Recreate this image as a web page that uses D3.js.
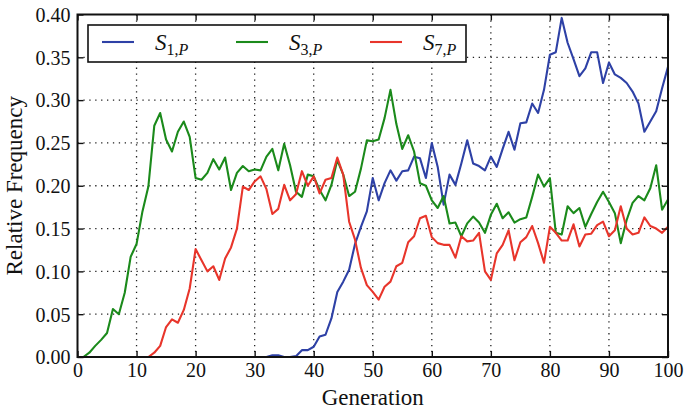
<!DOCTYPE html>
<html>
<head>
<meta charset="utf-8">
<script src="https://cdn.jsdelivr.net/npm/d3@7"></script>
<style>
  html, body { margin: 0; padding: 0; background: #fff; }
  svg text { font-family: "Liberation Serif", "Times New Roman", serif; fill: #111; }
</style>
</head>
<body>
<svg id="chart" width="685" height="412"></svg>
<script>
// ---- data ----
const xTicks = [0, 10, 20, 30, 40, 50, 60, 70, 80, 90, 100];
const yTicks = [0.00, 0.05, 0.10, 0.15, 0.20, 0.25, 0.30, 0.35, 0.40];
const seriesNames = ["1", "3", "7"];

const s3Start = 0;
const s3Values = [0, 0, 0.005, 0.013, 0.020, 0.028, 0.056, 0.050, 0.075, 0.117,
  0.132, 0.170, 0.199, 0.270, 0.285, 0.254, 0.240, 0.263, 0.275, 0.257,
  0.209, 0.207, 0.215, 0.231, 0.219, 0.233, 0.195, 0.215, 0.223, 0.217,
  0.219, 0.218, 0.234, 0.243, 0.218, 0.249, 0.224, 0.193, 0.187, 0.213,
  0.211, 0.195, 0.183, 0.201, 0.230, 0.213, 0.188, 0.193, 0.220, 0.253,
  0.252, 0.254, 0.279, 0.312, 0.272, 0.243, 0.259, 0.240, 0.203, 0.200,
  0.183, 0.174, 0.188, 0.156, 0.157, 0.141, 0.156, 0.164, 0.157, 0.145,
  0.166, 0.179, 0.162, 0.169, 0.157, 0.161, 0.163, 0.187, 0.213, 0.199,
  0.209, 0.145, 0.143, 0.176, 0.168, 0.174, 0.152, 0.167, 0.181, 0.193,
  0.181, 0.168, 0.133, 0.160, 0.180, 0.188, 0.183, 0.197, 0.224, 0.172,
  0.184];

const s7Start = 12;
const s7Values = [0, 0.005, 0.013, 0.035, 0.044, 0.040, 0.055, 0.080,
  0.126, 0.113, 0.100, 0.106, 0.090, 0.115, 0.128, 0.150, 0.199, 0.195,
  0.205, 0.211, 0.196, 0.167, 0.173, 0.201, 0.183, 0.190, 0.217, 0.200,
  0.211, 0.191, 0.207, 0.209, 0.233, 0.213, 0.158, 0.137, 0.104, 0.084,
  0.076, 0.067, 0.082, 0.088, 0.106, 0.110, 0.134, 0.141, 0.162, 0.165,
  0.140, 0.133, 0.131, 0.131, 0.116, 0.141, 0.135, 0.136, 0.145, 0.100,
  0.090, 0.121, 0.131, 0.148, 0.113, 0.134, 0.140, 0.153, 0.133, 0.110,
  0.152, 0.145, 0.136, 0.136, 0.155, 0.129, 0.143, 0.144, 0.154, 0.158,
  0.141, 0.148, 0.176, 0.150, 0.143, 0.145, 0.163, 0.153, 0.150, 0.145,
  0.152];

const s1Start = 32;
const s1Values = [0, 0.002, 0.002, 0, 0, 0.001, 0.008, 0.008,
  0.012, 0.024, 0.026, 0.045, 0.076, 0.088, 0.102, 0.132, 0.152, 0.170,
  0.209, 0.183, 0.203, 0.218, 0.206, 0.217, 0.218, 0.234, 0.232, 0.209,
  0.250, 0.222, 0.178, 0.213, 0.201, 0.226, 0.253, 0.226, 0.223, 0.218,
  0.234, 0.222, 0.243, 0.263, 0.242, 0.273, 0.274, 0.296, 0.285, 0.312,
  0.353, 0.356, 0.396, 0.367, 0.348, 0.328, 0.337, 0.356, 0.356, 0.320,
  0.344, 0.330, 0.326, 0.320, 0.310, 0.296, 0.263, 0.275, 0.287, 0.314,
  0.339];

// ---- layout ----
const svg = d3.select("#chart");
const pL = 77.5, pR = 668, pT = 14.5, pB = 357;
const x = d3.scaleLinear().domain([0, 100]).range([pL, pR]);
const y = d3.scaleLinear().domain([0, 0.40]).range([pB, pT]);

const toPts = (start, vals) => vals.map((v, i) => ({ g: start + i, v }));
const series = [
  { name: seriesNames[0], color: "#2e41a6", pts: toPts(s1Start, s1Values) },
  { name: seriesNames[1], color: "#1b8a1b", pts: toPts(s3Start, s3Values) },
  { name: seriesNames[2], color: "#e8352b", pts: toPts(s7Start, s7Values) }
];

// grid
const grid = svg.append("g").attr("stroke", "#222").attr("stroke-width", 1.3)
  .attr("stroke-dasharray", "1.3,4.6");
xTicks.filter(t => t > 0 && t < 100).forEach(t => {
  grid.append("line").attr("x1", x(t)).attr("x2", x(t)).attr("y1", pT).attr("y2", pB);
});
yTicks.filter(t => t > 0 && t < 0.4).forEach(t => {
  grid.append("line").attr("x1", pL).attr("x2", pR).attr("y1", y(t)).attr("y2", y(t));
});

// lines
const line = d3.line().x(d => x(d.g)).y(d => y(d.v));
svg.append("clipPath").attr("id", "clip").append("rect")
  .attr("x", pL).attr("y", pT - 2).attr("width", pR - pL).attr("height", pB - pT + 2);
series.forEach(s => {
  svg.append("path").datum(s.pts).attr("d", line)
    .attr("fill", "none").attr("stroke", s.color).attr("stroke-width", 2.1)
    .attr("stroke-linejoin", "round").attr("clip-path", "url(#clip)");
});

// axes (ticks pointing inward)
const fmtY = d3.format(".2f");
const axB = svg.append("g").attr("transform", `translate(0,${pB})`)
  .call(d3.axisBottom(x).tickValues(xTicks).tickSizeInner(-6).tickSizeOuter(0).tickPadding(5).tickFormat(d3.format("d")));
const axT = svg.append("g").attr("transform", `translate(0,${pT})`)
  .call(d3.axisTop(x).tickValues(xTicks).tickSizeInner(-6).tickSizeOuter(0).tickFormat(""));
const axL = svg.append("g").attr("transform", `translate(${pL},0)`)
  .call(d3.axisLeft(y).tickValues(yTicks).tickSizeInner(-6).tickSizeOuter(0).tickPadding(7).tickFormat(fmtY));
const axR = svg.append("g").attr("transform", `translate(${pR},0)`)
  .call(d3.axisRight(y).tickValues(yTicks).tickSizeInner(-6).tickSizeOuter(0).tickFormat(""));
[axB, axT, axL, axR].forEach(a => {
  a.select(".domain").remove();
  a.selectAll(".tick line").attr("stroke", "#111").attr("stroke-width", 1.4);
  a.selectAll("text").attr("font-size", 20).attr("fill", "#111")
    .style("font-family", "'Liberation Serif', serif");
});
axB.selectAll("text").attr("dy", "0.75em");
axL.selectAll("text").attr("dy", "0.34em");

// frame
svg.append("rect").attr("x", pL).attr("y", pT).attr("width", pR - pL).attr("height", pB - pT)
  .attr("fill", "none").attr("stroke", "#111").attr("stroke-width", 2);

// axis titles
svg.append("text").attr("x", (pL + pR) / 2).attr("y", 405).attr("text-anchor", "middle")
  .attr("font-size", 23).text("Generation");
svg.append("text").attr("transform", `translate(22,${(pT + pB) / 2}) rotate(-90)`)
  .attr("text-anchor", "middle").attr("font-size", 23).text("Relative Frequency");

// legend
const lg = svg.append("g");
lg.append("rect").attr("x", 88).attr("y", 25).attr("width", 378).attr("height", 37)
  .attr("fill", "#fff").attr("stroke", "#111").attr("stroke-width", 1.6);
const lx = [102, 236, 370];
series.forEach((s, i) => {
  lg.append("line").attr("x1", lx[i]).attr("x2", lx[i] + 32).attr("y1", 42).attr("y2", 42)
    .attr("stroke", s.color).attr("stroke-width", 2.1);
  const t = lg.append("text").attr("x", lx[i] + 53).attr("y", 50).attr("font-size", 23);
  t.append("tspan").attr("font-style", "italic").text("S");
  t.append("tspan").attr("font-size", 16).attr("dy", 5).text(s.name + ",");
  t.append("tspan").attr("font-size", 16).attr("font-style", "italic").text("P");
});
</script>
</body>
</html>
